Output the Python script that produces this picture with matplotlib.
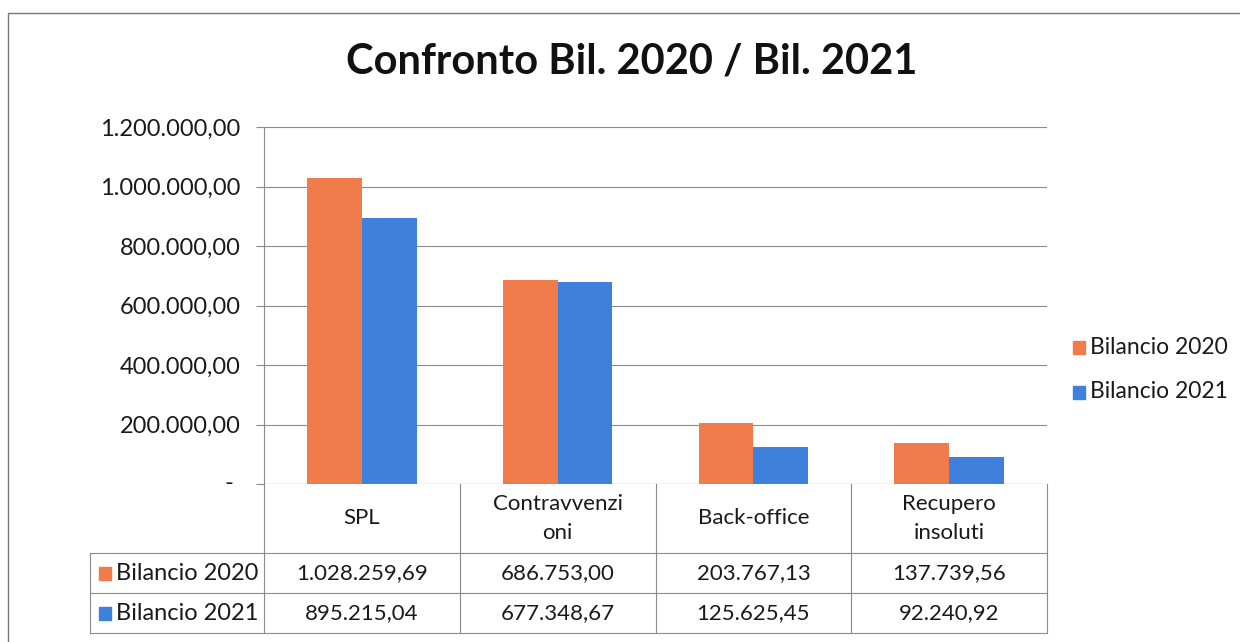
import matplotlib
matplotlib.use("Agg")
import matplotlib.pyplot as plt
import matplotlib.transforms as mtransforms
from matplotlib.patches import Rectangle
import numpy as np

# ---- data ----
categories = ["SPL", "Contravvenzioni", "Back-office", "Recupero insoluti"]
header_labels = ["SPL", "Contravvenzi\noni", "Back-office", "Recupero\ninsoluti"]
series_names = ["Bilancio 2020", "Bilancio 2021"]
bilancio_2020 = [1028259.69, 686753.00, 203767.13, 137739.56]
bilancio_2021 = [895215.04, 677348.67, 125625.45, 92240.92]
y_ticks = [0, 200000, 400000, 600000, 800000, 1000000, 1200000]
title = "Confronto Bil. 2020 / Bil. 2021"

COL_2020 = "#F07B4B"
COL_2021 = "#3F80DC"
GRID = "#8a8a8a"
TXT = "#1a1a1a"
FONT = "Lato"

plt.rcParams["font.family"] = [FONT, "DejaVu Sans"]


def it_fmt(v):
    s = f"{v:,.2f}"
    return s.replace(",", "X").replace(".", ",").replace("X", ".")


W, H = 1240, 642
fig = plt.figure(figsize=(W / 100, H / 100), dpi=100)

# plot area in pixel coordinates
px_left, px_right, px_top, px_bottom = 264, 1047, 127, 484
ax = fig.add_axes([px_left / W, 1 - px_bottom / H,
                   (px_right - px_left) / W, (px_bottom - px_top) / H])
ph = px_bottom - px_top
pw = px_right - px_left


def ay(py):
    return (px_bottom - py) / ph


def axx(px):
    return (px - px_left) / pw


n = len(categories)
x = np.arange(n)
bw = 0.28
ax.bar(x - bw / 2, bilancio_2020, width=bw, color=COL_2020, zorder=3)
ax.bar(x + bw / 2, bilancio_2021, width=bw, color=COL_2021, zorder=3)

ax.set_xlim(-0.5, n - 0.5)
ax.set_ylim(0, 1200000)
ax.set_yticks(y_ticks)
ax.set_yticklabels(["" if t == 0 else it_fmt(t) for t in y_ticks],
                   fontsize=17, color=TXT)
ax.tick_params(axis="y", length=6, color=GRID, pad=11, width=0.8)
ax.set_xticks([])
ax.yaxis.grid(True, color=GRID, linewidth=0.8, zorder=0)
for s in ["top", "right", "bottom"]:
    ax.spines[s].set_visible(False)
ax.spines["left"].set_color(GRID)
ax.spines["left"].set_linewidth(0.8)
ax.axhline(0, color=GRID, linewidth=0.8, zorder=4)

# accounting style: zero shown as an inset dash
trans = mtransforms.blended_transform_factory(ax.transAxes, ax.transData)
ax.text(axx(229), y_ticks[0], "-", transform=trans, ha="center",
        va="center", fontsize=17, color=TXT, clip_on=False)

# ---- data table under the plot ----
row_edges = [484, 553, 593, 633]
label_left = 90
line_kw = dict(color=GRID, linewidth=0.8, clip_on=False, transform=ax.transAxes)

# vertical lines between category columns
for i in range(n + 1):
    xa = i / n
    ax.plot([xa, xa], [ay(row_edges[0]), ay(row_edges[-1])], **line_kw)
# left border of label column
ax.plot([axx(label_left)] * 2, [ay(row_edges[1]), ay(row_edges[-1])], **line_kw)
# horizontal lines
for r in row_edges[1:]:
    ax.plot([axx(label_left), 1], [ay(r), ay(r)], **line_kw)

# header labels
for i, lab in enumerate(header_labels):
    ax.text((i + 0.5) / n, ay((row_edges[0] + row_edges[1]) / 2), lab,
            transform=ax.transAxes, ha="center", va="center", fontsize=16,
            color=TXT, linespacing=1.6)

# value rows
for r, (name, vals, col) in enumerate(zip(series_names,
                                          [bilancio_2020, bilancio_2021],
                                          [COL_2020, COL_2021])):
    yc = ay((row_edges[r + 1] + row_edges[r + 2]) / 2)
    for i, v in enumerate(vals):
        ax.text((i + 0.5) / n, yc, it_fmt(v), transform=ax.transAxes,
                ha="center", va="center", fontsize=16, color=TXT)
    ax.add_patch(Rectangle((axx(99), yc - 6.5 / ph), 12 / pw, 13 / ph,
                           transform=ax.transAxes, color=col, clip_on=False))
    ax.text(axx(116), yc, name, transform=ax.transAxes, ha="left",
            va="center", fontsize=17, color=TXT)

# ---- legend on the right ----
for name, col, py in zip(series_names, [COL_2020, COL_2021], [347, 392]):
    fig.patches.append(Rectangle((1073 / W, 1 - (py + 6.5) / H), 12 / W, 13 / H,
                                 transform=fig.transFigure, color=col))
    fig.text(1090 / W, 1 - py / H, name, ha="left", va="center",
             fontsize=16.5, color=TXT)

# ---- title ----
fig.text(632 / W, 1 - 62 / H, title, ha="center", va="center",
         fontsize=30, fontweight="bold", color="#111111")

# chart frame
fig.patches.append(Rectangle((8 / W, -0.05), 1.2, 1 - 13 / H + 0.05,
                             transform=fig.transFigure, fill=False,
                             edgecolor="#777777", linewidth=1.0))

fig.savefig("out.png", dpi=100, facecolor="white")
